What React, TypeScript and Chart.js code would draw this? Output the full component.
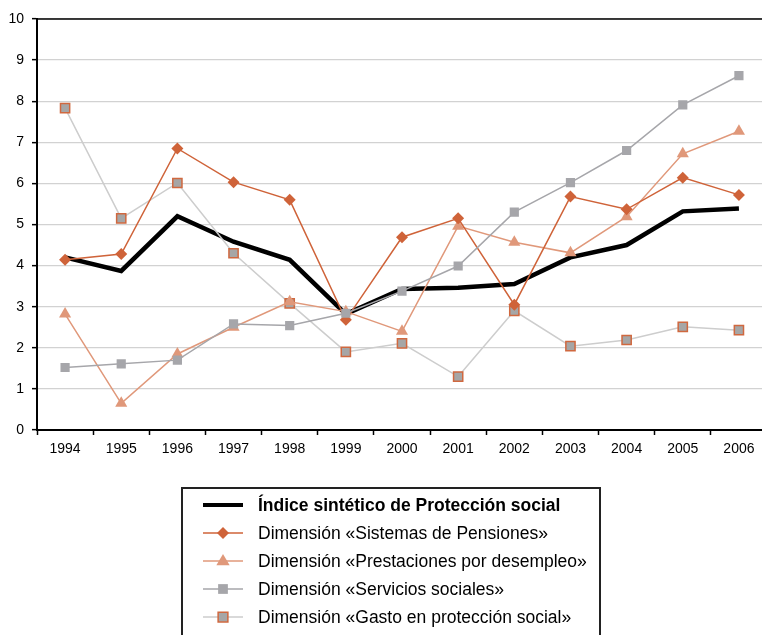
import React, { useEffect, useRef } from "react";
import { Chart, registerables } from "chart.js";

Chart.register(...registerables);

const years = ["1994", "1995", "1996", "1997", "1998", "1999", "2000", "2001", "2002", "2003", "2004", "2005", "2006"];
const indice = [4.2, 3.87, 5.2, 4.58, 4.14, 2.82, 3.43, 3.46, 3.55, 4.2, 4.5, 5.32, 5.39];
const pensiones = [4.14, 4.28, 6.85, 6.03, 5.6, 2.68, 4.69, 5.15, 3.05, 5.68, 5.37, 6.14, 5.72];
const prestaciones = [2.82, 0.65, 1.85, 2.5, 3.12, 2.88, 2.4, 4.96, 4.57, 4.31, 5.19, 6.72, 7.27];
const servicios = [1.52, 1.61, 1.7, 2.58, 2.54, 2.84, 3.38, 3.99, 5.3, 6.02, 6.8, 7.91, 8.62];
const gasto = [7.83, 5.15, 6.01, 4.3, 3.08, 1.9, 2.11, 1.3, 2.9, 2.04, 2.19, 2.51, 2.43];
const seriesNames = [
  "Índice sintético de Protección social",
  "Dimensión «Sistemas de Pensiones»",
  "Dimensión «Prestaciones por desempleo»",
  "Dimensión «Servicios sociales»",
  "Dimensión «Gasto en protección social»",
];
const yTicks = [0, 1, 2, 3, 4, 5, 6, 7, 8, 9, 10];

const FONT = "'Liberation Sans', Arial, sans-serif";
const CANVAS_W = 790;

function drawMarker(ctx: CanvasRenderingContext2D, style: string, x: number, y: number, r: number, fill: string, stroke: string, lw: number) {
  ctx.save();
  ctx.fillStyle = fill;
  ctx.strokeStyle = stroke;
  ctx.lineWidth = lw;
  ctx.beginPath();
  if (style === "rectRot") {
    ctx.moveTo(x, y - r);
    ctx.lineTo(x + r, y);
    ctx.lineTo(x, y + r);
    ctx.lineTo(x - r, y);
    ctx.closePath();
  } else if (style === "triangle") {
    ctx.moveTo(x, y - r);
    ctx.lineTo(x + r * 0.95, y + r * 0.6);
    ctx.lineTo(x - r * 0.95, y + r * 0.6);
    ctx.closePath();
  } else if (style === "rect") {
    const s = r * 0.75;
    ctx.rect(x - s, y - s, 2 * s, 2 * s);
  }
  ctx.fill();
  if (lw > 0) ctx.stroke();
  ctx.restore();
}

const legendPlugin = {
  id: "customLegend",
  afterDraw(chart: any) {
    const ctx: CanvasRenderingContext2D = chart.ctx;
    const ca = chart.chartArea;
    ctx.save();
    ctx.strokeStyle = "#000";
    ctx.lineWidth = 1.5;
    ctx.beginPath();
    ctx.moveTo(ca.left, ca.top);
    ctx.lineTo(ca.right, ca.top);
    ctx.stroke();

    const bx = 182, by = 488, bw = 418, bh = 160;
    ctx.strokeStyle = "#222";
    ctx.lineWidth = 2;
    ctx.strokeRect(bx, by, bw, bh);

    const rows = [505, 533, 561, 589, 617];
    chart.data.datasets.forEach((ds: any, i: number) => {
      const y = rows[i];
      ctx.strokeStyle = ds.borderColor;
      ctx.lineWidth = i === 0 ? 4 : ds.borderWidth;
      ctx.beginPath();
      ctx.moveTo(203, y);
      ctx.lineTo(243, y);
      ctx.stroke();
      if (ds.pointStyle && ds.pointRadius > 0) {
        drawMarker(ctx, ds.pointStyle, 223, y, ds.pointRadius, ds.pointBackgroundColor, ds.pointBorderColor, ds.pointBorderWidth);
      }
      ctx.fillStyle = "#000";
      ctx.font = (i === 0 ? "bold " : "") + "17.5px " + FONT;
      ctx.textBaseline = "middle";
      ctx.textAlign = "left";
      ctx.fillText(seriesNames[i], 258, y + 1);
    });
    ctx.restore();
  },
};

export default function App() {
  const ref = useRef<HTMLCanvasElement | null>(null);
  useEffect(() => {
    if (!ref.current) return;
    const chart = new Chart(ref.current, {
      type: "line",
      data: {
        labels: years,
        datasets: [
          {
            label: seriesNames[0],
            data: indice,
            borderColor: "#000000",
            backgroundColor: "#000000",
            borderWidth: 4.5,
            pointRadius: 0,
            pointStyle: false as any,
            order: 5,
            tension: 0,
          },
          {
            label: seriesNames[1],
            data: pensiones,
            borderColor: "#cf6339",
            backgroundColor: "#cf6339",
            borderWidth: 1.5,
            pointStyle: "rectRot",
            pointRadius: 6,
            pointBackgroundColor: "#cf6339",
            pointBorderColor: "#cf6339",
            pointBorderWidth: 0,
            order: 2,
            tension: 0,
          },
          {
            label: seriesNames[2],
            data: prestaciones,
            borderColor: "#e0987a",
            backgroundColor: "#e0987a",
            borderWidth: 1.5,
            pointStyle: "triangle",
            pointRadius: 7,
            pointBackgroundColor: "#e0987a",
            pointBorderColor: "#e0987a",
            pointBorderWidth: 0,
            order: 3,
            tension: 0,
          },
          {
            label: seriesNames[3],
            data: servicios,
            borderColor: "#a6a6aa",
            backgroundColor: "#a6a6aa",
            borderWidth: 1.5,
            pointStyle: "rect",
            pointRadius: 6.5,
            pointBackgroundColor: "#a6a6aa",
            pointBorderColor: "#a6a6aa",
            pointBorderWidth: 0,
            order: 1,
            tension: 0,
          },
          {
            label: seriesNames[4],
            data: gasto,
            borderColor: "#cdcdcd",
            backgroundColor: "#cdcdcd",
            borderWidth: 1.5,
            pointStyle: "rect",
            pointRadius: 6.5,
            pointBackgroundColor: "#a6a6a6",
            pointBorderColor: "#d0683f",
            pointBorderWidth: 1.5,
            order: 4,
            tension: 0,
          },
        ],
      },
      options: {
        responsive: false,
        animation: false,
        devicePixelRatio: 1,
        layout: { padding: { left: 0, top: 19, right: CANVAS_W - 767, bottom: 165 } },
        plugins: {
          legend: { display: false },
          tooltip: { enabled: false },
        },
        scales: {
          x: {
            type: "category",
            offset: true,
            grid: {
              offset: true,
              drawOnChartArea: false,
              drawTicks: true,
              tickLength: 5,
              tickColor: "#000",
              tickWidth: 1.5,
            },
            border: { display: true, color: "#000", width: 2 },
            ticks: {
              color: "#000",
              font: { family: FONT, size: 14 },
              padding: 6,
              maxRotation: 0,
              autoSkip: false,
            },
            afterFit: (scale: any) => {
              scale.height = 40;
            },
          },
          y: {
            min: 0,
            max: 10,
            afterBuildTicks: (scale: any) => {
              scale.ticks = yTicks.map((v) => ({ value: v }));
            },
            grid: {
              color: "#d2d2d2",
              lineWidth: 1.3,
              drawTicks: true,
              tickLength: 5,
              tickColor: "#000",
              tickWidth: 1.5,
            },
            border: { display: true, color: "#000", width: 2 },
            ticks: {
              color: "#000",
              font: { family: FONT, size: 14 },
              padding: 8,
            },
            afterFit: (scale: any) => {
              scale.width = 37;
            },
          },
        },
      },
      plugins: [legendPlugin],
    });
    return () => chart.destroy();
  }, []);

  return (
    <div
      style={{
        position: "fixed",
        left: 0,
        top: 0,
        width: 762,
        height: 635,
        overflow: "hidden",
        background: "#fff",
      }}
    >
      <canvas ref={ref} width={CANVAS_W} height={635} style={{ width: CANVAS_W, height: 635, display: "block" }} />
    </div>
  );
}
